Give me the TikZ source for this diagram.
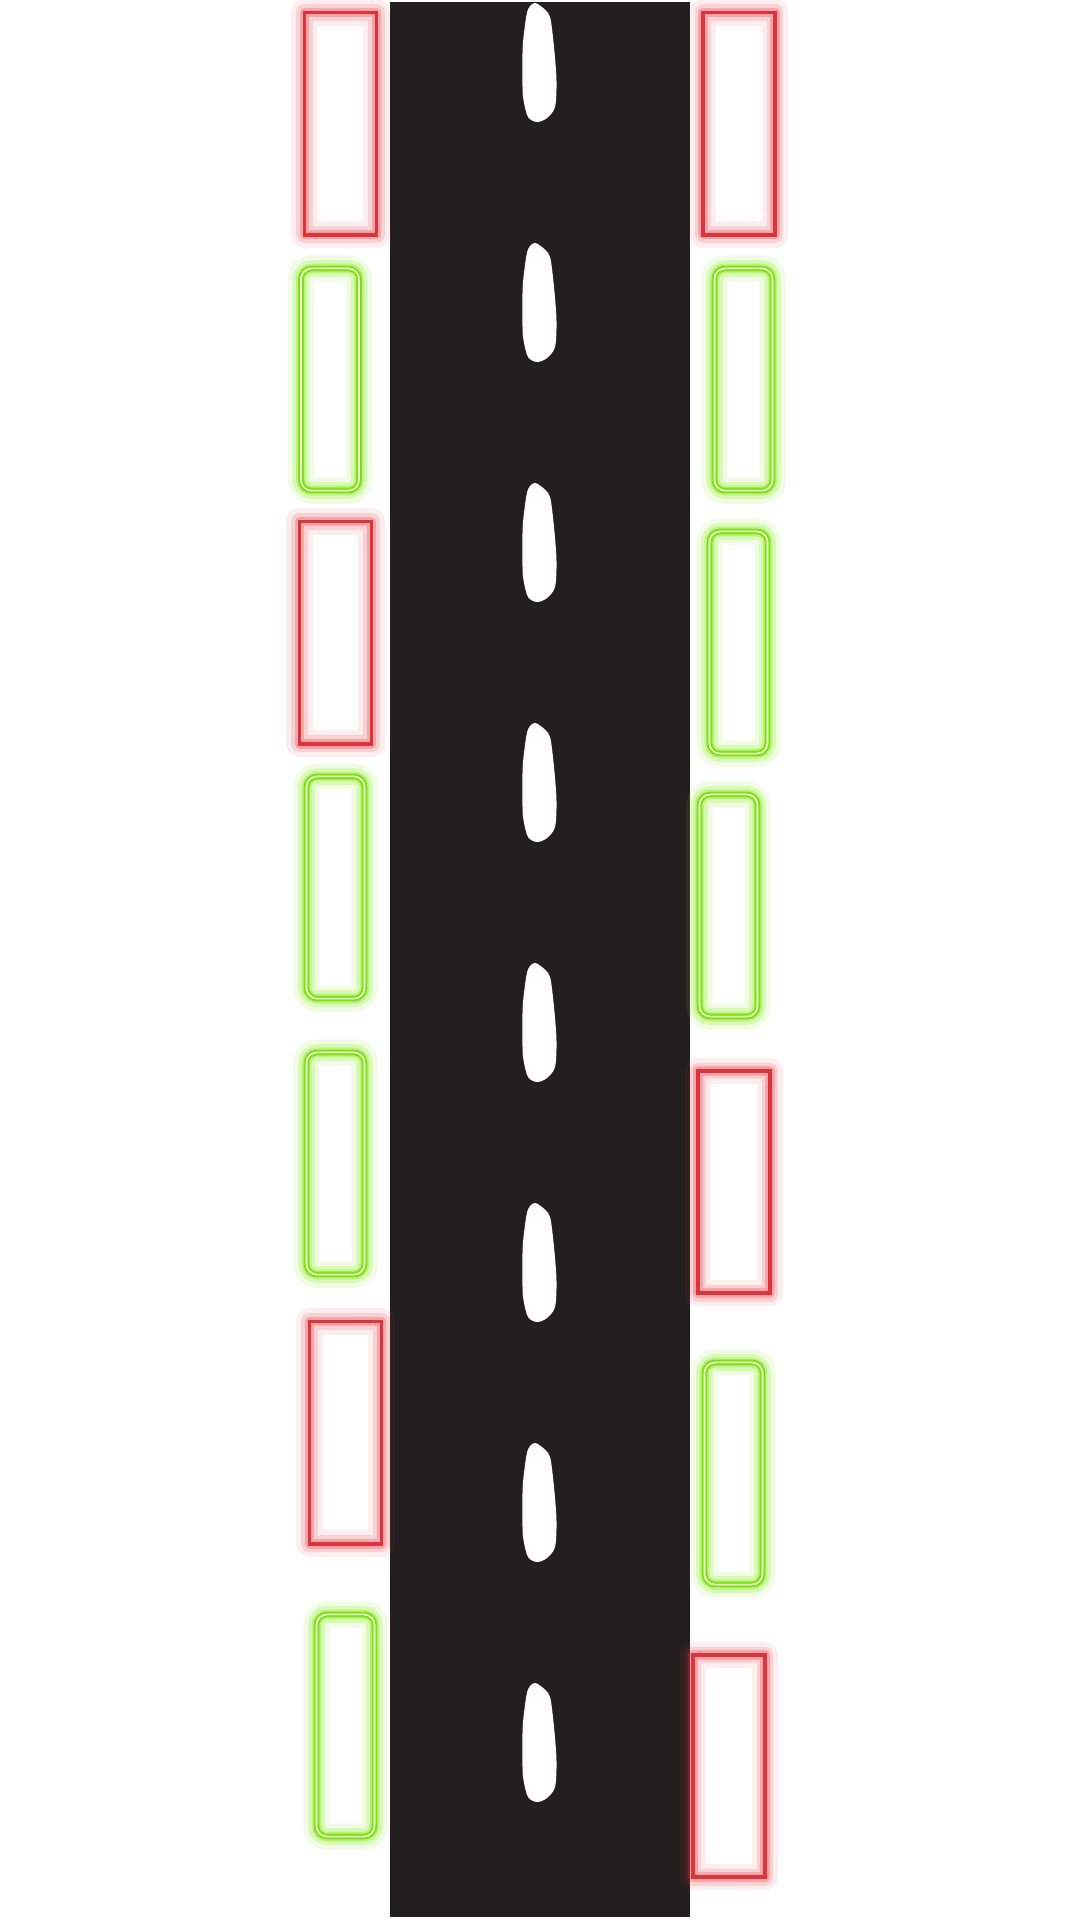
\documentclass[tikz,border=0pt]{standalone}
\definecolor{asphalt}{RGB}{35,31,32}
\definecolor{neonred}{RGB}{228,48,54}
\definecolor{neongreen}{RGB}{120,232,0}
\tikzset{
    redsign/.style={draw=neonred, line width=1.1pt, inner sep=0pt, outer sep=0pt,
        minimum width=0.72cm, minimum height=2.22cm,
        preaction={draw=neonred, draw opacity=0.08, line width=7.5pt, line join=round},
        preaction={draw=neonred, draw opacity=0.15, line width=4.8pt, line join=round},
        preaction={draw=neonred, draw opacity=0.25, line width=2.8pt, line join=round}},
    greensign/.style={draw=neongreen, line width=0.6pt, double=white, double distance=0.45pt,
        rounded corners=3pt, inner sep=0pt, outer sep=0pt,
        minimum width=0.58cm, minimum height=2.22cm,
        preaction={draw=neongreen, draw opacity=0.1, line width=7.5pt},
        preaction={draw=neongreen, draw opacity=0.18, line width=4.8pt},
        preaction={draw=neongreen, draw opacity=0.3, line width=2.8pt}}
}
\begin{document}
\begin{tikzpicture}[x=0.01cm,y=-0.01cm]
    \useasboundingbox (0,0) rectangle (1080,1920);
    \fill[white] (0,0) rectangle (1080,1920);
    %отрисовка дороги
    \fill[asphalt] (390,2) rectangle (690,1917);
    %разметка посередине
    \foreach \t in {3,243,483,723,963,1203,1443,1683}
        \fill[white, shift={(0,\t)}] plot[smooth cycle] coordinates {(535,0) (542,4) (550,14) (554,44) (556.5,78) (555,104) (547,115) (537,119) (528,114) (523.5,97) (522.5,84) (522.7,44) (526.5,12) (530,3)};
    %знаки слева
    \node[redsign] (l1) at (340.5,123.5) {};
    \node[greensign] (l2) at (330,379.5) {};
    \node[redsign] (l3) at (335.5,632.5) {};
    \node[greensign] (l4) at (335.5,887.5) {};
    \node[greensign] (l5) at (335.5,1163.5) {};
    \node[redsign] (l6) at (345.5,1432.5) {};
    \node[greensign] (l7) at (345.5,1725.5) {};
    %знаки справа
    \node[redsign] (r1) at (739,123.5) {};
    \node[greensign] (r2) at (743.5,379.5) {};
    \node[greensign] (r3) at (738.5,642.5) {};
    \node[greensign] (r4) at (728.5,905.5) {};
    \node[redsign] (r5) at (734,1182) {};
    \node[greensign] (r6) at (733.5,1473.5) {};
    \node[redsign] (r7) at (729,1766) {};
\end{tikzpicture}
\end{document}
